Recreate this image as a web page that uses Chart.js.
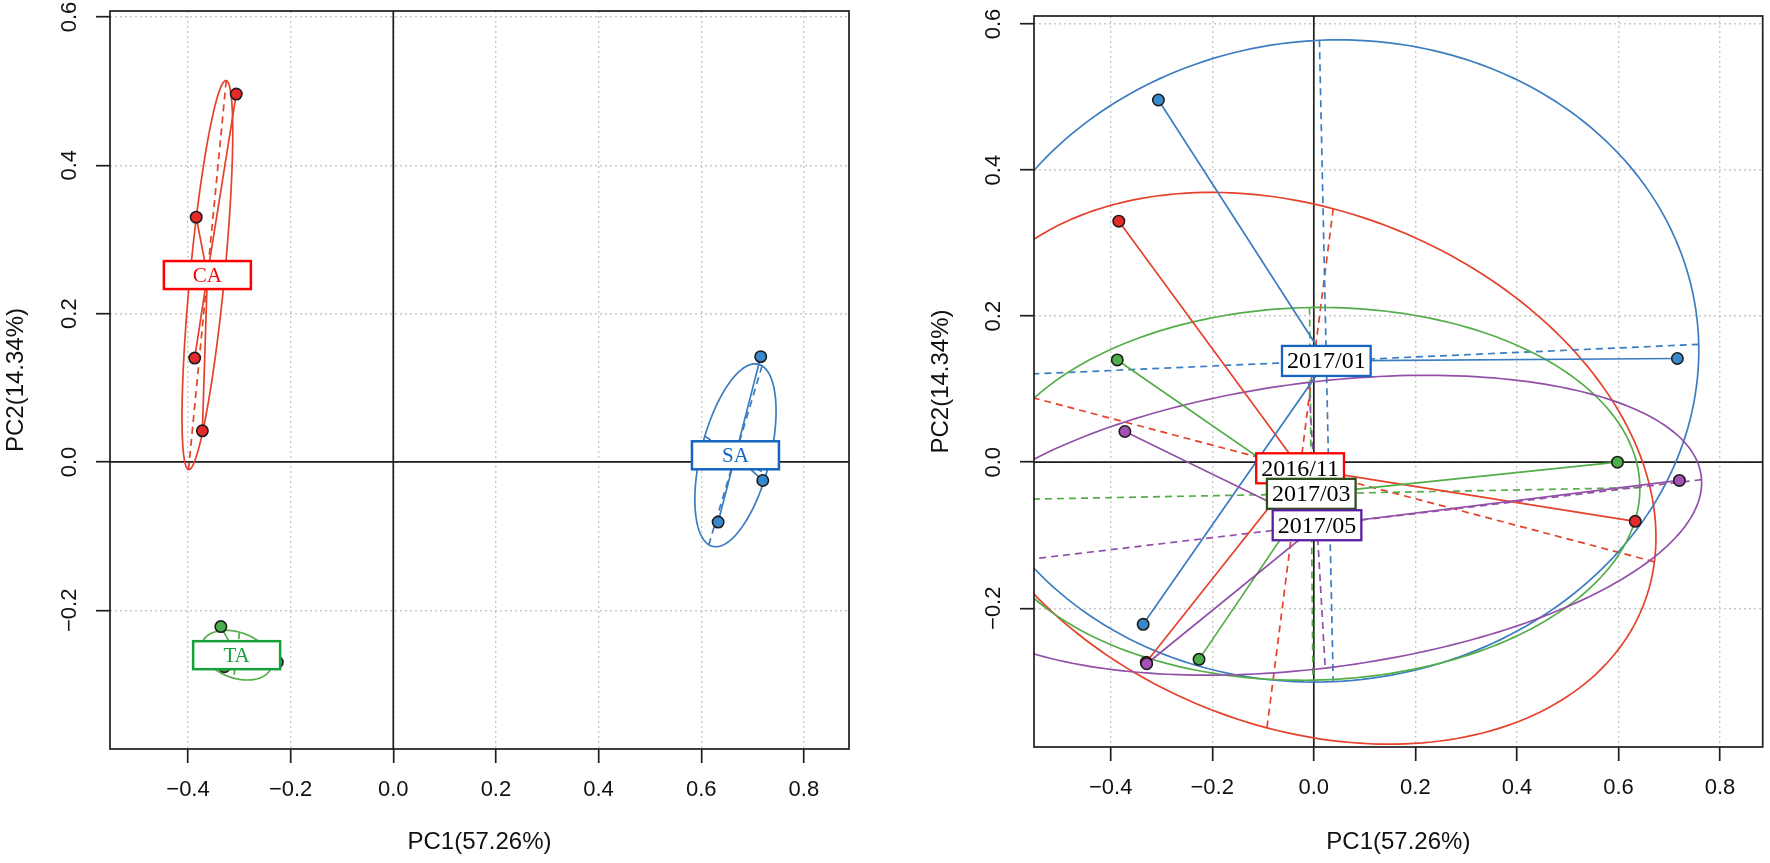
<!DOCTYPE html>
<html>
<head>
<meta charset="utf-8">
<script src="https://cdn.jsdelivr.net/npm/chart.js@4.4.1/dist/chart.umd.min.js"></script>
<style>
html,body{margin:0;padding:0;background:#ffffff;}
#wrap{position:relative;width:1770px;height:863px;overflow:hidden;}
.pane{position:absolute;top:0;width:885px;height:863px;}
canvas{display:block;}
</style>
</head>
<body>
<div id="wrap">
  <div class="pane" style="left:0px"><canvas id="c1" width="885" height="863"></canvas></div>
  <div class="pane" style="left:885px"><canvas id="c2" width="885" height="863"></canvas></div>
</div>
<script>
// ---------------- data ----------------
const siteNames = ['CA', 'SA', 'TA'];
const dateNames = ['2016/11', '2017/01', '2017/03', '2017/05'];
// 12 samples (site x date)
const sampleSite = [0, 0, 0, 0, 1, 1, 1, 1, 2, 2, 2, 2];
const sampleDate = [0, 1, 2, 3, 0, 1, 2, 3, 0, 1, 2, 3];
const pc1 = [-0.384, -0.306, -0.387, -0.372, 0.633, 0.716, 0.598, 0.720, -0.330, -0.336, -0.226, -0.329];
const pc2 = [0.330, 0.496, 0.140, 0.042, -0.081, 0.142, 0.000, -0.025, -0.274, -0.222, -0.270, -0.276];
const xTickValues = [-0.4, -0.2, 0.0, 0.2, 0.4, 0.6, 0.8];
const yTickValues = [-0.2, 0.0, 0.2, 0.4, 0.6];
const leftXRange = [-0.552, 0.888];
const leftYRange = [-0.387, 0.608];
const rightXRange = [-0.551, 0.884];
const rightYRange = [-0.390, 0.611];
const xTitle = 'PC1(57.26%)';
const yTitle = 'PC2(14.34%)';

// ---------------- styles ----------------
const SANS = '"Liberation Sans", Arial, Helvetica, sans-serif';
const SERIF = '"Liberation Serif", "Times New Roman", serif';
const siteLine = ['#e6412a', '#3b7dc0', '#55ad4a'];
const sitePoint = ['#e42a2a', '#3a88cc', '#4cae4a'];
const siteLabel = ['#ff0000', '#1565c0', '#17a03a'];
const dateLine = ['#e6412a', '#3b7dc0', '#55ad4a', '#9350a8'];
const datePoint = ['#e42a2a', '#3a88cc', '#4cae4a', '#a352b3'];
const dateLabelBorder = ['#ff0000', '#1565c0', '#2f4f1c', '#5b1f9e'];

function fmt(v) {
  const s = Math.abs(v).toFixed(1);
  return (v < -1e-9 ? '\u2212' : '') + s;
}

// class centroids and ade4-style ellipses (cellipse = 1.5) derived from the points
function groupStats(groupOf, nGroups) {
  const res = [];
  for (let g = 0; g < nGroups; g++) {
    const idx = [];
    for (let i = 0; i < pc1.length; i++) if (groupOf[i] === g) idx.push(i);
    const n = idx.length;
    const mx = idx.reduce((s, i) => s + pc1[i], 0) / n;
    const my = idx.reduce((s, i) => s + pc2[i], 0) / n;
    let vx = 0, vy = 0, cxy = 0;
    idx.forEach(i => { const dx = pc1[i] - mx, dy = pc2[i] - my; vx += dx * dx / n; vy += dy * dy / n; cxy += dx * dy / n; });
    const delta = Math.sqrt((vx - vy) * (vx - vy) + 4 * cxy * cxy);
    let l1 = (vx + vy + delta) / 2, l2 = vx + vy - l1;
    l1 = Math.sqrt(Math.max(l1, 0)); l2 = Math.sqrt(Math.max(l2, 0));
    let a0, b0;
    if (Math.abs(cxy) < 1e-10) { if (vx > vy) { a0 = 1; b0 = 0; } else { a0 = 0; b0 = 1; } }
    else { a0 = 1; b0 = (l1 * l1 - vx) / cxy; const nr = Math.hypot(a0, b0); a0 /= nr; b0 /= nr; }
    const k = 1.5;
    res.push({ idx, mx, my, c11: k * a0 * l1, c12: -k * b0 * l2, c21: k * b0 * l1, c22: k * a0 * l2 });
  }
  return res;
}

function makeChart(canvasId, cfg) {
  const stats = groupStats(cfg.groupOf, cfg.names.length);
  const datasets = [];
  // star segments: centroid -> each point
  stats.forEach((s, g) => {
    const d = [];
    s.idx.forEach(i => { d.push({ x: s.mx, y: s.my }); d.push({ x: pc1[i], y: pc2[i] }); });
    datasets.push({ data: d, showLine: true, borderColor: cfg.lineColors[g], borderWidth: 1.7,
      pointRadius: 0, pointHoverRadius: 0, fill: false, tension: 0 });
  });
  // points
  stats.forEach((s, g) => {
    datasets.push({ data: s.idx.map(i => ({ x: pc1[i], y: pc2[i] })), showLine: false,
      pointRadius: 5.7, pointBorderWidth: 1.6, pointBackgroundColor: cfg.pointColors[g],
      pointBorderColor: '#1c1c1c', pointHoverRadius: 5.7 });
  });
  // drawing sequence = array order (higher 'order' is drawn first)
  datasets.forEach((d, k) => { d.order = datasets.length - k; });

  const decor = {
    id: 'decor',
    beforeDatasetsDraw(chart) {
      const { ctx, chartArea: a, scales: { x, y } } = chart;
      ctx.save();
      ctx.beginPath(); ctx.rect(a.left, a.top, a.right - a.left, a.bottom - a.top); ctx.clip();
      ctx.strokeStyle = '#1e1e1e'; ctx.lineWidth = 1.7; ctx.setLineDash([]);
      const x0 = x.getPixelForValue(0), y0 = y.getPixelForValue(0);
      ctx.beginPath();
      ctx.moveTo(x0, a.top); ctx.lineTo(x0, a.bottom);
      ctx.moveTo(a.left, y0); ctx.lineTo(a.right, y0);
      ctx.stroke();
      const seg = (xa, ya, xb, yb) => { ctx.moveTo(x.getPixelForValue(xa), y.getPixelForValue(ya)); ctx.lineTo(x.getPixelForValue(xb), y.getPixelForValue(yb)); };
      stats.forEach((s, g) => {
        ctx.strokeStyle = cfg.lineColors[g]; ctx.lineWidth = 1.7; ctx.setLineDash([]);
        ctx.beginPath();
        const N = 240;
        for (let i = 0; i <= N; i++) {
          const t = 2 * Math.PI * i / N;
          const vx = s.mx + s.c11 * Math.cos(t) + s.c12 * Math.sin(t);
          const vy = s.my + s.c21 * Math.cos(t) + s.c22 * Math.sin(t);
          const px = x.getPixelForValue(vx), py = y.getPixelForValue(vy);
          if (i === 0) ctx.moveTo(px, py); else ctx.lineTo(px, py);
        }
        ctx.closePath(); ctx.stroke();
        ctx.setLineDash([7, 5]);
        ctx.beginPath();
        seg(s.mx + s.c11, s.my + s.c21, s.mx - s.c11, s.my - s.c21);
        seg(s.mx + s.c12, s.my + s.c22, s.mx - s.c12, s.my - s.c22);
        ctx.stroke();
      });
      ctx.restore();
    },
    afterDatasetsDraw(chart) {
      const { ctx, chartArea: a, scales: { x, y } } = chart;
      ctx.save();
      // class labels
      ctx.font = cfg.labelFont;
      ctx.textAlign = 'center'; ctx.textBaseline = 'middle';
      stats.forEach((s, g) => {
        const px = x.getPixelForValue(s.mx), py = y.getPixelForValue(s.my);
        const tw = ctx.measureText(cfg.names[g]).width;
        const w = cfg.boxWidth ? cfg.boxWidth : tw + 10;
        const h = cfg.boxHeight;
        ctx.fillStyle = '#ffffff';
        ctx.fillRect(px - w / 2, py - h / 2, w, h);
        ctx.strokeStyle = cfg.labelBorder[g]; ctx.lineWidth = cfg.boxLine; ctx.setLineDash([]);
        ctx.strokeRect(px - w / 2, py - h / 2, w, h);
        ctx.fillStyle = cfg.labelText[g];
        ctx.fillText(cfg.names[g], px, py + 1);
      });
      // frame
      ctx.strokeStyle = '#1e1e1e'; ctx.lineWidth = 1.7;
      ctx.strokeRect(a.left, a.top, a.right - a.left, a.bottom - a.top);
      // rotated y tick labels
      ctx.fillStyle = '#111111';
      ctx.font = '22px ' + SANS;
      yTickValues.forEach(v => {
        const py = y.getPixelForValue(v);
        ctx.save();
        ctx.translate(a.left - 40, py);
        ctx.rotate(-Math.PI / 2);
        ctx.textAlign = 'center'; ctx.textBaseline = 'middle';
        ctx.fillText(fmt(v), 0, 0);
        ctx.restore();
      });
      ctx.restore();
    }
  };

  return new Chart(document.getElementById(canvasId), {
    type: 'scatter',
    data: { datasets },
    options: {
      responsive: false,
      animation: false,
      events: [],
      layout: { padding: { top: cfg.padTop, right: cfg.padRight, left: 0, bottom: 0 } },
      plugins: { legend: { display: false }, tooltip: { enabled: false }, title: { display: false } },
      scales: {
        x: {
          type: 'linear', min: cfg.xRange[0], max: cfg.xRange[1],
          afterBuildTicks: s => { s.ticks = xTickValues.map(v => ({ value: v })); },
          afterFit: s => { s.height = cfg.xH; },
          grid: { color: '#c9c9c9', lineWidth: 1.4, drawTicks: true, tickLength: 14, tickColor: '#1e1e1e', tickWidth: 1.7, tickBorderDash: [] },
          border: { display: false, dash: [2, 3] },
          ticks: { color: '#111111', font: { family: SANS, size: 22 }, padding: 14, maxRotation: 0, minRotation: 0, autoSkip: false, callback: v => fmt(v) },
          title: { display: true, text: xTitle, color: '#111111', font: { family: SANS, size: 24 }, padding: { top: 0, bottom: 6 } }
        },
        y: {
          type: 'linear', min: cfg.yRange[0], max: cfg.yRange[1],
          afterBuildTicks: s => { s.ticks = yTickValues.map(v => ({ value: v })); },
          afterFit: s => { s.width = cfg.yW; },
          grid: { color: '#c9c9c9', lineWidth: 1.4, drawTicks: true, tickLength: 14, tickColor: '#1e1e1e', tickWidth: 1.7, tickBorderDash: [] },
          border: { display: false, dash: [2, 3] },
          ticks: { display: false },
          title: { display: true, text: yTitle, color: '#111111', font: { family: SANS, size: 24 }, padding: { top: cfg.yTitlePad, bottom: 0 } }
        }
      }
    },
    plugins: [decor]
  });
}

makeChart('c1', {
  groupOf: sampleSite, names: siteNames,
  lineColors: siteLine, pointColors: sitePoint,
  labelBorder: siteLabel, labelText: siteLabel,
  labelFont: '21px ' + SERIF, boxWidth: 87, boxHeight: 28, boxLine: 2.5,
  xRange: leftXRange, yRange: leftYRange,
  padTop: 11, padRight: 36, yW: 110, xH: 114, yTitlePad: 2
});

makeChart('c2', {
  groupOf: sampleDate, names: dateNames,
  lineColors: dateLine, pointColors: datePoint,
  labelBorder: dateLabelBorder, labelText: ['#000000', '#000000', '#000000', '#000000'],
  labelFont: '24px ' + SERIF, boxWidth: 0, boxHeight: 30, boxLine: 2.3,
  xRange: rightXRange, yRange: rightYRange,
  padTop: 16, padRight: 5, yW: 149, xH: 116, yTitlePad: 42
});
</script>
</body>
</html>
